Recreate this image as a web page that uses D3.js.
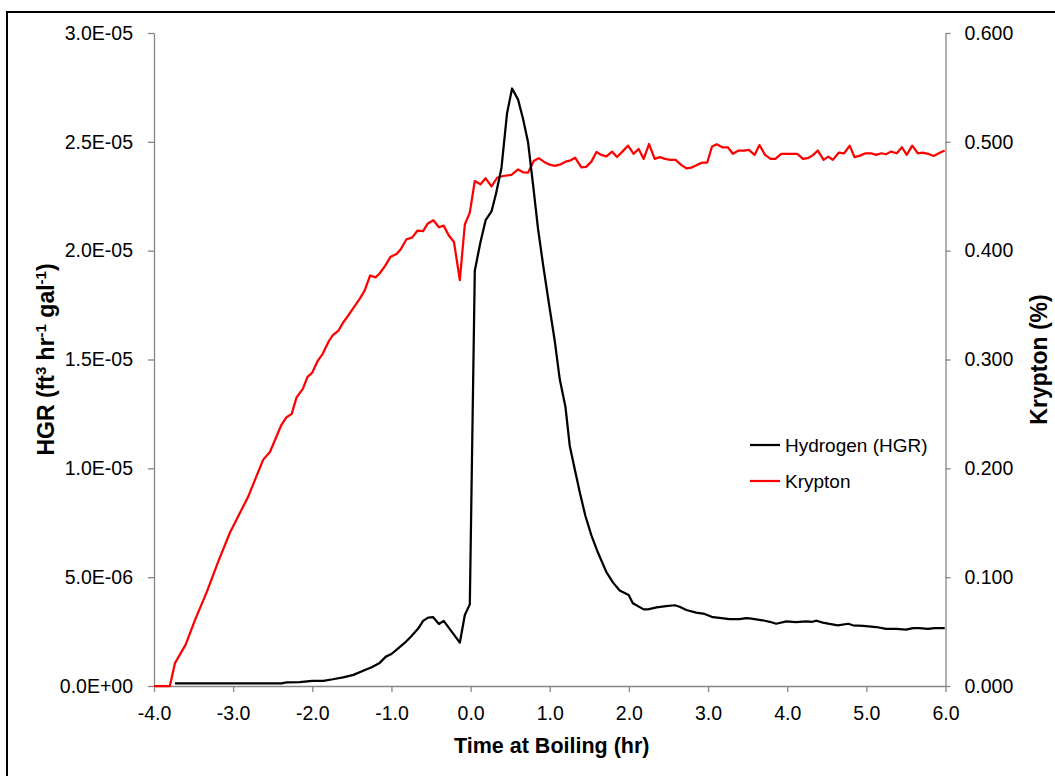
<!DOCTYPE html>
<meta charset="utf-8">
<script src="https://d3js.org/d3.v7.min.js"></script>
<style>
  body { margin: 0; background: #fff; }
  text { font-family: "Liberation Sans", Arial, sans-serif; }
</style>
<div id="chart"></div>
<script>
// Hydrogen generation rate (black, left axis)
const h2Time = [-3.735, -2.39, -2.325, -2.16, -2.0, -1.86, -1.74, -1.61, -1.48, -1.357, -1.25, -1.155, -1.07, -1.0,
  -0.915, -0.83, -0.746, -0.66, -0.60, -0.537, -0.473, -0.40, -0.34, -0.136, -0.073, -0.01, 0.053, 0.125, 0.19,
  0.264, 0.32, 0.39, 0.46, 0.524, 0.60, 0.663, 0.726, 0.79, 0.852, 0.916, 0.99, 1.063, 1.126, 1.198, 1.253, 1.316,
  1.38, 1.45, 1.526, 1.61, 1.716, 1.80, 1.884, 1.997, 2.05, 2.187, 2.24, 2.35, 2.47, 2.58, 2.64, 2.726, 2.85, 2.957,
  3.06, 3.146, 3.27, 3.40, 3.48, 3.525, 3.69, 3.78, 3.86, 3.99, 4.11, 4.24, 4.32, 4.37, 4.45, 4.535, 4.64, 4.77,
  4.83, 4.96, 5.125, 5.25, 5.38, 5.50, 5.59, 5.67, 5.78, 5.86, 5.99];
const h2Hgr = [1.2e-7, 1.2e-7, 1.7e-7, 1.8e-7, 2.3e-7, 2.4e-7, 3.1e-7, 4.0e-7, 5.1e-7, 7.0e-7, 8.6e-7, 1.04e-6, 1.35e-6, 1.47e-6,
  1.73e-6, 1.99e-6, 2.30e-6, 2.65e-6, 2.99e-6, 3.14e-6, 3.16e-6, 2.85e-6, 2.99e-6, 1.99e-6, 3.26e-6, 3.75e-6, 1.908e-5, 2.04e-5, 2.14e-5,
  2.18e-5, 2.26e-5, 2.38e-5, 2.63e-5, 2.745e-5, 2.694e-5, 2.605e-5, 2.498e-5, 2.30e-5, 2.10e-5, 1.935e-5, 1.756e-5, 1.586e-5, 1.41e-5, 1.283e-5, 1.103e-5, 9.96e-6,
  8.89e-6, 7.82e-6, 6.92e-6, 6.12e-6, 5.23e-6, 4.75e-6, 4.39e-6, 4.18e-6, 3.80e-6, 3.52e-6, 3.52e-6, 3.61e-6, 3.67e-6, 3.71e-6, 3.64e-6, 3.49e-6, 3.37e-6, 3.31e-6,
  3.16e-6, 3.13e-6, 3.07e-6, 3.07e-6, 3.12e-6, 3.11e-6, 3.02e-6, 2.95e-6, 2.86e-6, 2.97e-6, 2.94e-6, 2.97e-6, 2.95e-6, 3.0e-6, 2.91e-6, 2.85e-6, 2.79e-6, 2.86e-6,
  2.79e-6, 2.76e-6, 2.71e-6, 2.62e-6, 2.62e-6, 2.59e-6, 2.66e-6, 2.66e-6, 2.62e-6, 2.66e-6, 2.66e-6];

// Krypton (red, right axis)
const krTime = [-4.0, -3.80, -3.735, -3.60, -3.48, -3.33, -3.19, -3.04, -2.81, -2.62, -2.535, -2.39, -2.325, -2.26,
  -2.20, -2.12, -2.06, -2.0, -1.93, -1.87, -1.79, -1.74, -1.67, -1.61, -1.54, -1.46, -1.40, -1.34, -1.27, -1.20,
  -1.15, -1.08, -1.01, -0.935, -0.885, -0.81, -0.74, -0.67, -0.60, -0.54, -0.47, -0.40, -0.34, -0.275, -0.21, -0.136,
  -0.073, -0.01, 0.053, 0.125, 0.19, 0.264, 0.335, 0.41, 0.516, 0.60, 0.663, 0.726, 0.80, 0.861, 0.924, 1.0, 1.063,
  1.126, 1.20, 1.265, 1.32, 1.40, 1.46, 1.526, 1.59, 1.65, 1.716, 1.787, 1.85, 1.918, 1.989, 2.06, 2.124, 2.187,
  2.254, 2.326, 2.39, 2.456, 2.524, 2.59, 2.66, 2.726, 2.79, 2.86, 2.93, 2.99, 3.05, 3.11, 3.18, 3.25, 3.314, 3.386,
  3.453, 3.516, 3.588, 3.65, 3.72, 3.79, 3.85, 3.925, 3.99, 4.06, 4.127, 4.2, 4.26, 4.33, 4.387, 4.46, 4.52, 4.576,
  4.65, 4.72, 4.79, 4.85, 4.92, 4.99, 5.06, 5.125, 5.19, 5.25, 5.31, 5.385, 5.45, 5.51, 5.58, 5.65, 5.71, 5.78,
  5.85, 5.915, 5.99];
const krPct = [0, 0, 0.021, 0.038, 0.061, 0.087, 0.114, 0.141, 0.174, 0.208, 0.215, 0.240, 0.247, 0.250,
  0.265, 0.273, 0.284, 0.288, 0.299, 0.305, 0.317, 0.3225, 0.3265, 0.334, 0.341, 0.3495, 0.356, 0.363, 0.377, 0.3755,
  0.379, 0.386, 0.3945, 0.397, 0.401, 0.4105, 0.412, 0.4185, 0.418, 0.425, 0.428, 0.4215, 0.423, 0.414, 0.408, 0.373,
  0.424, 0.435, 0.464, 0.461, 0.4665, 0.459, 0.467, 0.4686, 0.4697, 0.4746, 0.472, 0.4718, 0.4826, 0.485, 0.4818, 0.479, 0.478,
  0.479, 0.4818, 0.483, 0.4854, 0.4765, 0.477, 0.4818, 0.4907, 0.488, 0.4867, 0.491, 0.486, 0.491, 0.4965, 0.489, 0.4935, 0.4843,
  0.498, 0.4843, 0.486, 0.4843, 0.4834, 0.4834, 0.4788, 0.4757, 0.4763, 0.4788, 0.481, 0.481, 0.4957, 0.4978, 0.495, 0.495, 0.489, 0.492,
  0.492, 0.4926, 0.488, 0.497, 0.488, 0.4843, 0.4843, 0.489, 0.489, 0.489, 0.489, 0.4843, 0.485, 0.488, 0.492, 0.4834, 0.4864, 0.4834,
  0.490, 0.4895, 0.4965, 0.486, 0.4873, 0.4895, 0.4895, 0.488, 0.4895, 0.4886, 0.491, 0.4895, 0.495, 0.488, 0.4965, 0.4895, 0.490, 0.489,
  0.487, 0.4895, 0.492];

const xTicks = [-4, -3, -2, -1, 0, 1, 2, 3, 4, 5, 6];
const hgrTicks = [0, 5e-6, 1e-5, 1.5e-5, 2e-5, 2.5e-5, 3e-5];
const krTicks = [0, 0.1, 0.2, 0.3, 0.4, 0.5, 0.6];

const W = 1055, H = 776;
const plot = { left: 154, right: 945.5, top: 33, bottom: 686 };

const svg = d3.select("#chart").append("svg")
  .attr("width", W).attr("height", H);

// outer chart frame
svg.append("rect")
  .attr("x", 7).attr("y", 12)
  .attr("width", 1100).attr("height", 800)
  .attr("fill", "none").attr("stroke", "#000").attr("stroke-width", 2);

const x = d3.scaleLinear().domain([-4, 6]).range([plot.left, plot.right]);
const y = d3.scaleLinear().domain([0, 3e-5]).range([plot.bottom, plot.top]);
const y2 = d3.scaleLinear().domain([0, 0.6]).range([plot.bottom, plot.top]);

function sci(d) {
  const parts = d.toExponential(1).split("e");
  const e = parseInt(parts[1], 10);
  return parts[0] + "E" + (e < 0 ? "-" : "+") + String(Math.abs(e)).padStart(2, "0");
}

function styleAxis(g) {
  g.select(".domain").attr("stroke", "#868686").attr("stroke-width", 1.3);
  g.selectAll(".tick line").attr("stroke", "#868686").attr("stroke-width", 1.3);
  g.selectAll(".tick text").attr("fill", "#000").style("font-size", "19.5px")
    .style("font-family", "'Liberation Sans', Arial, sans-serif");
}

svg.append("g")
  .attr("transform", `translate(0,${plot.bottom})`)
  .call(d3.axisBottom(x).tickValues(xTicks).tickFormat(d => d.toFixed(1)).tickSize(6).tickPadding(14).tickSizeOuter(0))
  .call(styleAxis);

svg.append("g")
  .attr("transform", `translate(${plot.left},0)`)
  .call(d3.axisLeft(y).tickValues(hgrTicks).tickFormat(sci).tickSize(6).tickPadding(15).tickSizeOuter(0))
  .call(styleAxis);

svg.append("g")
  .attr("transform", `translate(${plot.right},0)`)
  .call(d3.axisRight(y2).tickValues(krTicks).tickFormat(d => d.toFixed(3)).tickSize(5).tickPadding(14).tickSizeOuter(0))
  .call(styleAxis);

// curves
const h2Data = h2Time.map((t, i) => [t, h2Hgr[i]]);
const krData = krTime.map((t, i) => [t, krPct[i]]);

svg.append("path")
  .datum(krData)
  .attr("fill", "none").attr("stroke", "#ff0000").attr("stroke-width", 2.25)
  .attr("stroke-linejoin", "round")
  .attr("d", d3.line().x(d => x(d[0])).y(d => y2(d[1])));

svg.append("path")
  .datum(h2Data)
  .attr("fill", "none").attr("stroke", "#000").attr("stroke-width", 2.25)
  .attr("stroke-linejoin", "round")
  .attr("d", d3.line().x(d => x(d[0])).y(d => y(d[1])));

// axis titles
svg.append("text")
  .attr("x", (plot.left + plot.right) / 2 + 2).attr("y", 753)
  .attr("text-anchor", "middle")
  .style("font-size", "21.5px").style("font-weight", "bold")
  .text("Time at Boiling (hr)");

const yt = svg.append("text")
  .attr("transform", `translate(54,${(plot.top + plot.bottom) / 2}) rotate(-90)`)
  .attr("text-anchor", "middle")
  .style("font-size", "23px").style("font-weight", "bold");
yt.append("tspan").text("HGR (ft");
yt.append("tspan").attr("baseline-shift", "super").style("font-size", "15px").text("3");
yt.append("tspan").text(" hr");
yt.append("tspan").attr("baseline-shift", "super").style("font-size", "15px").text("-1");
yt.append("tspan").text(" gal");
yt.append("tspan").attr("baseline-shift", "super").style("font-size", "15px").text("-1");
yt.append("tspan").text(")");

svg.append("text")
  .attr("transform", `translate(1047,${(plot.top + plot.bottom) / 2}) rotate(-90)`)
  .attr("text-anchor", "middle")
  .style("font-size", "23px").style("font-weight", "bold")
  .text("Krypton (%)");

// legend
const legend = [
  { name: "Hydrogen (HGR)", color: "#000", y: 445 },
  { name: "Krypton", color: "#ff0000", y: 481 }
];
legend.forEach(l => {
  svg.append("line")
    .attr("x1", 750).attr("x2", 780).attr("y1", l.y).attr("y2", l.y)
    .attr("stroke", l.color).attr("stroke-width", 2.25);
  svg.append("text")
    .attr("x", 785).attr("y", l.y + 7)
    .style("font-size", "19px")
    .text(l.name);
});
</script>
